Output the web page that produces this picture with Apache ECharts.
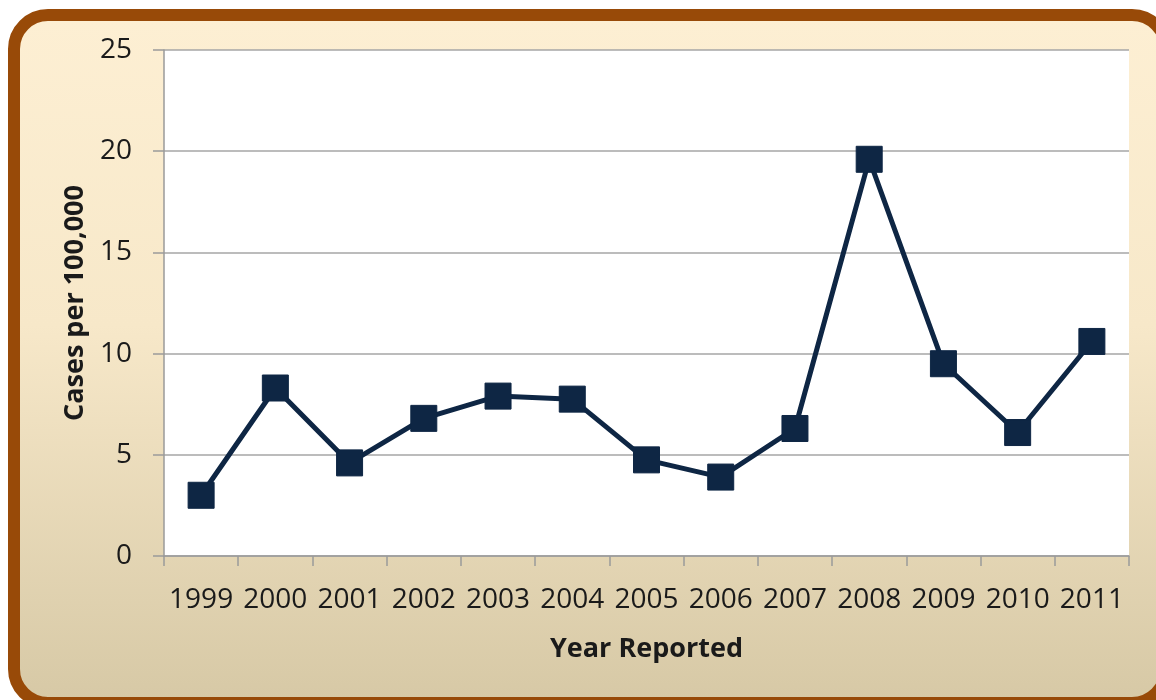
<!DOCTYPE html>
<html>
<head>
<meta charset="utf-8">
<script src="https://cdn.jsdelivr.net/npm/echarts@6/dist/echarts.min.js"></script>
<style>
  html, body { margin: 0; padding: 0; width: 1156px; height: 700px; overflow: hidden; background: #ffffff; }
  #frame {
    position: absolute; left: 8px; top: 9px; width: 1164px; height: 700px;
    box-sizing: border-box; border: 12px solid #984a08; border-radius: 40px;
    background: linear-gradient(to bottom, #fdefd3 0%, #f7e8c9 45%, #d7c9a6 100%);
  }
  #main { position: absolute; left: 0; top: 0; width: 1156px; height: 700px; }
</style>
</head>
<body>
<div id="frame"></div>
<div id="main"></div>
<script>
  // 年份与每10万人病例数
  const years = ["1999", "2000", "2001", "2002", "2003", "2004", "2005", "2006", "2007", "2008", "2009", "2010", "2011"];
  const cases = [3.0, 8.3, 4.6, 6.8, 7.9, 7.75, 4.75, 3.9, 6.3, 19.6, 9.5, 6.1, 10.6];
  const yTicks = { min: 0, max: 25, interval: 5 };

  const font = "'Open Sans', 'Noto Sans', sans-serif";
  const chart = echarts.init(document.getElementById("main"), null, { renderer: "canvas" });

  const option = {
    backgroundColor: "transparent",
    animation: false,
    grid: {
      left: 164,
      top: 50,
      right: 27,
      bottom: 144,
      show: true,
      backgroundColor: "#ffffff",
      borderWidth: 0,
    },
    xAxis: {
      type: "category",
      data: years,
      boundaryGap: true,
      name: "Year Reported",
      nameLocation: "middle",
      nameGap: 80,
      nameTextStyle: { fontFamily: font, fontSize: 27, fontWeight: "bold", color: "#1a1a1a" },
      axisLine: { lineStyle: { color: "#9a9a9a", width: 1.5 } },
      axisTick: { show: true, length: 10, alignWithLabel: false, lineStyle: { color: "#9a9a9a", width: 1.5 } },
      axisLabel: { interval: 0, margin: 30, fontFamily: font, fontSize: 28, color: "#1a1a1a" },
    },
    yAxis: {
      type: "value",
      min: yTicks.min,
      max: yTicks.max,
      interval: yTicks.interval,
      name: "Cases per 100,000",
      nameLocation: "middle",
      nameGap: 65,
      nameTextStyle: { fontFamily: font, fontSize: 27, fontWeight: "bold", color: "#1a1a1a" },
      axisLine: { show: true, lineStyle: { color: "#9a9a9a", width: 1.5 } },
      axisTick: { show: true, length: 11, lineStyle: { color: "#9a9a9a", width: 1.5 } },
      axisLabel: { margin: 32, fontFamily: font, fontSize: 28, color: "#1a1a1a" },
      splitLine: { show: true, lineStyle: { color: "#a6a6a6", width: 1.5 } },
    },
    series: [
      {
        name: "Cases",
        type: "line",
        data: cases,
        symbol: "rect",
        symbolSize: 26,
        lineStyle: { color: "#0e2644", width: 5 },
        itemStyle: { color: "#0e2644", borderColor: "#0e2644" },
      },
    ],
  };

  chart.setOption(option);
</script>
</body>
</html>
